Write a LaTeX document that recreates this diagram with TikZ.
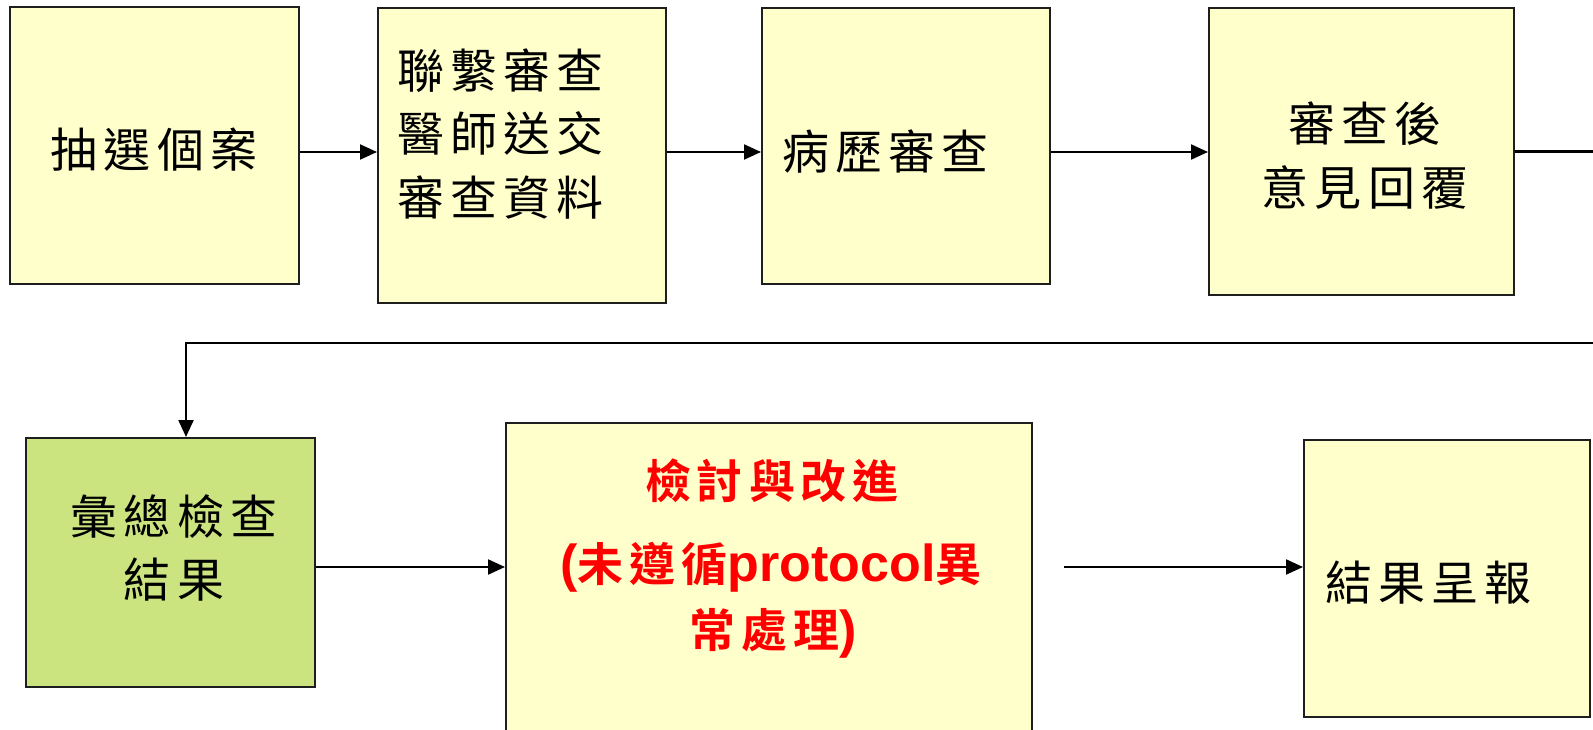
\documentclass[tikz,border=0pt]{standalone}
\usepackage{fontspec}
\usetikzlibrary{arrows.meta}
\newfontfamily\cjk[LetterSpace=13]{Noto Sans CJK TC}
\newfontfamily\cjkb[LetterSpace=13]{Noto Sans CJK TC Bold}
\newfontfamily\latb{Liberation Sans Bold}
\definecolor{boxyellow}{RGB}{255,255,204}
\definecolor{boxgreen}{RGB}{204,228,128}
\definecolor{bordergray}{RGB}{30,30,30}
\definecolor{redtext}{RGB}{255,0,0}
\tikzset{
  box/.style={draw=bordergray, line width=2pt, fill=boxyellow, inner sep=0pt, rectangle},
  gbox/.style={box, fill=boxgreen},
  arr/.style={draw=black, line width=2.2pt, -{Triangle[length=17pt,width=15pt]}},
  lbl/.style={inner sep=0pt, font=\cjk\fontsize{47pt}{63.5pt}\selectfont},
  rlbl/.style={inner sep=0pt, text=redtext, anchor=base}
}
\newcommand{\rc}[1]{{\cjkb\fontsize{46pt}{60pt}\selectfont #1}}
\newcommand{\rl}[1]{{\latb\fontsize{52pt}{60pt}\selectfont #1}}
\begin{document}
\begin{tikzpicture}[x=1pt,y=-1pt]
\useasboundingbox (0,0) rectangle (1593,730);
\clip (0,0) rectangle (1593,730);
% boxes
\node[box, minimum width=289pt, minimum height=277pt] (b1) at (154.5,145.5) {};
\node[box, minimum width=288pt, minimum height=295pt] (b2) at (522,155.5) {};
\node[box, minimum width=288pt, minimum height=276pt] (b3) at (906,146) {};
\node[box, minimum width=305pt, minimum height=287pt] (b4) at (1361.5,151.5) {};
\node[gbox, minimum width=289pt, minimum height=249pt] (b5) at (170.5,562.5) {};
\node[box, minimum width=526pt, minimum height=360pt] (b6) at (769,603) {};
\node[box, minimum width=286pt, minimum height=277pt] (b7) at (1447,578.5) {};
% texts
\node[lbl, anchor=base] (t1) at (154,168) {抽選個案};
\node[lbl, anchor=base west, align=left] (t2) at (397,215.5) {聯繫審查\\醫師送交\\審查資料};
\node[lbl, anchor=base west] (t3) at (782,169.5) {病歷審查};
\node[lbl, anchor=base, align=center] (t4) at (1365,205.5) {審查後\\意見回覆};
\node[lbl, anchor=base, align=center] (t5) at (174,597.5) {彙總檢查\\結果};
\node[lbl, anchor=base west] (t7) at (1325,600.5) {結果呈報};
\node[rlbl] (t6a) at (772,498) {\rc{檢討與改進}};
\node[rlbl] (t6b) at (771,581) {\rl{(}\rc{未遵循}\rl{protocol}\rc{異}};
\node[rlbl] (t6c) at (773,647.5) {\rc{常處理}\rl{)}};
% connectors
\coordinate (row1) at (0,152);
\coordinate (turn) at (186,343);
\coordinate (row2) at (0,567);
\coordinate (s7) at (1064,567);
\draw[arr] (b1.east |- row1) -- (b2.west |- row1);
\draw[arr] (b2.east |- row1) -- (b3.west |- row1);
\draw[arr] (b3.east |- row1) -- (b4.west |- row1);
\draw[arr] (b4.east) -- ++(150,0) |- (turn) -- (turn |- b5.north);
\draw[arr] (b5.east |- row2) -- (b6.west |- row2);
\draw[arr] (s7) -- (b7.west |- s7);
\end{tikzpicture}
\end{document}
